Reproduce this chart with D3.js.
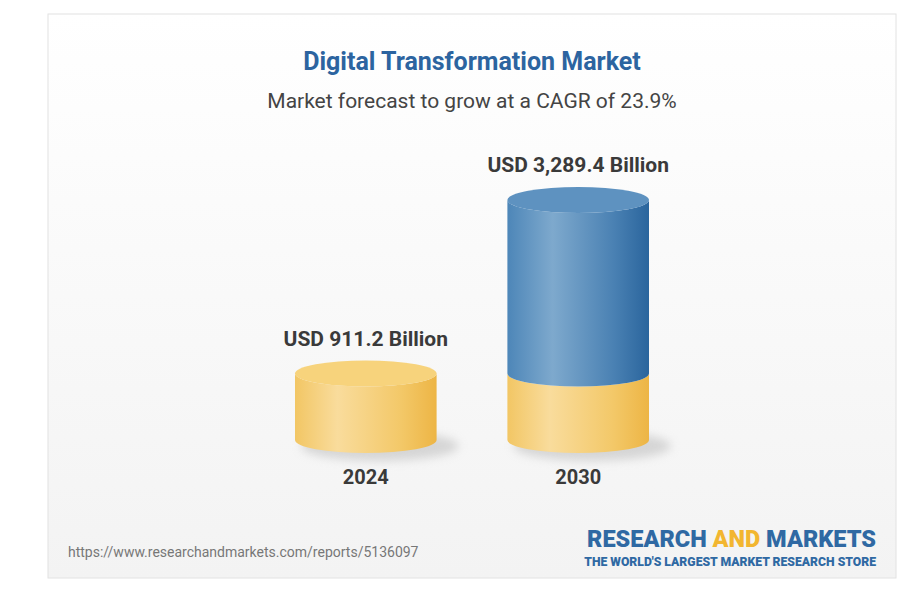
<!DOCTYPE html>
<html><head><meta charset="utf-8">
<script src="https://cdn.jsdelivr.net/npm/d3@7"></script>
<style>body{margin:0;background:#fff;font-family:Roboto,sans-serif}</style>
</head><body>
<svg id="c" width="900" height="592"></svg>
<script>
const years = ["2024", "2030"];
const values = [911.2, 3289.4];
const labels = ["USD 911.2 Billion", "USD 3,289.4 Billion"];
const baseValue = 911.2;

const svg = d3.select("#c");
const defs = svg.append("defs");
function grad(id, stops){
  const g = defs.append("linearGradient").attr("id", id).attr("x1","0").attr("x2","1").attr("y1","0").attr("y2","0");
  stops.forEach(([o,c]) => g.append("stop").attr("offset", o).attr("stop-color", c));
}
grad("yel", [[0,"#f2c664"],[0.3,"#f9dc9c"],[0.75,"#f3c868"],[1,"#edb545"]]);
grad("blu", [[0,"#4d86b8"],[0.32,"#7ea9cd"],[0.75,"#4a81b3"],[1,"#2a659d"]]);
const bg = defs.append("linearGradient").attr("id","bg").attr("x1",0).attr("x2",0).attr("y1",0).attr("y2",1);
bg.append("stop").attr("offset",0).attr("stop-color","#ffffff");
bg.append("stop").attr("offset",1).attr("stop-color","#f3f3f3");
const blur = defs.append("filter").attr("id","bl").attr("x","-50%").attr("y","-50%").attr("width","200%").attr("height","200%");
blur.append("feGaussianBlur").attr("stdDeviation", 5);

svg.append("rect").attr("x",48).attr("y",14).attr("width",848).attr("height",564)
  .attr("fill","url(#bg)").attr("stroke","#e2e2e2");

svg.append("text").attr("x",472).attr("y",70).attr("text-anchor","middle")
  .attr("font-size",25).attr("font-weight","bold").attr("fill","#2c64a0").text("Digital Transformation Market");
svg.append("text").attr("x",472).attr("y",108).attr("text-anchor","middle")
  .attr("font-size",21).attr("fill","#444").text("Market forecast to grow at a CAGR of 23.9%");

const x = d3.scaleBand().domain(years).range([295, 649]).paddingInner(1/3).paddingOuter(0);
const y = d3.scaleLinear().domain([0, 3289.4]).range([440, 200]);
const ry = 13;

years.forEach((yr, i) => {
  const x0 = x(yr), w = x.bandwidth(), cx = x0 + w/2, rx = w/2;
  const base = y(0), top = y(values[i]);
  const g = svg.append("g");
  g.append("ellipse").attr("cx", cx+14).attr("cy", base+6).attr("rx", rx+8).attr("ry", ry+2)
    .attr("fill","#bbb").attr("opacity",0.55).attr("filter","url(#bl)");
  const seg = (y1, y2, fill) => g.append("path")
    .attr("d", `M${x0},${y1} L${x0},${y2} A${rx},${ry} 0 0 0 ${x0+w},${y2} L${x0+w},${y1} A${rx},${ry} 0 0 1 ${x0},${y1} Z`)
    .attr("fill", fill);
  const ySplit = y(Math.min(baseValue, values[i]));
  seg(ySplit, base, "url(#yel)");
  if (values[i] > baseValue) seg(top, ySplit, "url(#blu)");
  g.append("ellipse").attr("cx", cx).attr("cy", top).attr("rx", rx).attr("ry", ry)
    .attr("fill", values[i] > baseValue ? "#5e92c0" : "#f7d37c");
  g.append("text").attr("x", cx).attr("y", top - 28).attr("text-anchor","middle")
    .attr("font-size",21).attr("font-weight","bold").attr("fill","#3a3a3a").text(labels[i]);
  g.append("text").attr("x", cx).attr("y", 484).attr("text-anchor","middle")
    .attr("font-size",20).attr("font-weight","bold").attr("fill","#3a3a3a").text(yr);
});

svg.append("text").attr("x",68).attr("y",557).attr("font-size",14).attr("fill","#777")
  .text("https://www.researchandmarkets.com/reports/5136097");
const logo = svg.append("text").attr("x",876).attr("y",547).attr("text-anchor","end")
  .attr("font-size",23.5).attr("font-weight","900").attr("font-family","Roboto, sans-serif");
logo.append("tspan").attr("fill","#2f69a3").text("RESEARCH ");
logo.append("tspan").attr("fill","#f2b630").text("AND");
logo.append("tspan").attr("fill","#2f69a3").text(" MARKETS");
svg.append("text").attr("x",876).attr("y",566).attr("text-anchor","end")
  .attr("font-size",12.2).attr("font-weight","900").attr("fill","#2f69a3")
  .text("THE WORLD'S LARGEST MARKET RESEARCH STORE");
</script>
</body></html>
